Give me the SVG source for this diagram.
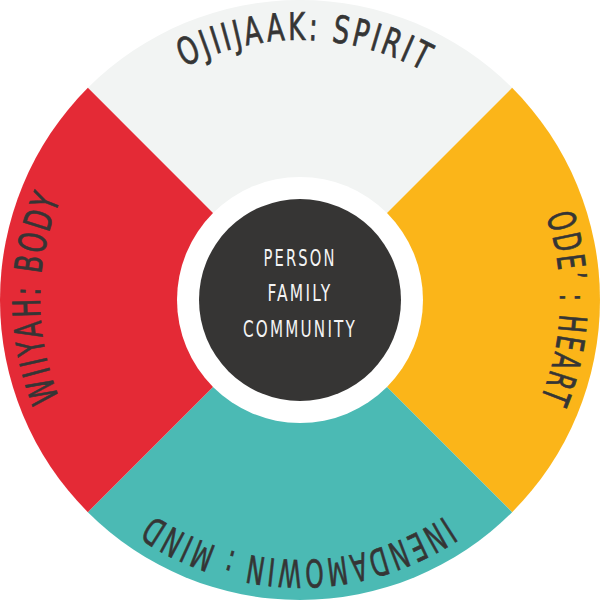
<svg xmlns="http://www.w3.org/2000/svg" width="600" height="600" viewBox="0 0 600 600">
  <style>
    .ring { font-family: "Liberation Sans Narrow", "DejaVu Sans Condensed", "Roboto", sans-serif; font-stretch: condensed; font-size: 38px; letter-spacing: 4px; fill: #353535; stroke: #353535; stroke-width: 0.7px; }
    .core { font-family: "Liberation Sans Narrow", "DejaVu Sans Condensed", "Roboto", sans-serif; font-stretch: condensed; font-size: 23px; letter-spacing: 3px; fill: #f4f4f4; text-anchor: middle; }
  </style>
  <defs>
    <path id="arcTop" d="M44.95,249.50 A260,260 0 0 1 556.94,260.22"/>
    <path id="arcRight" d="M354.06,45.68 A260,260 0 0 1 336.18,557.47"/>
    <path id="arcBottom" d="M555.56,347.83 A260,260 0 0 1 43.49,342.47"/>
    <path id="arcLeft" d="M252.17,555.56 A260,260 0 0 1 257.53,43.49"/>
  </defs>

  <g id="spirit">
    <path d="M300,300 L87.87,87.87 A300,300 0 0 1 512.13,87.87 Z" fill="#f2f4f3"/>
    <text class="ring"><textPath href="#arcTop" startOffset="50%" text-anchor="middle" textLength="251" lengthAdjust="spacingAndGlyphs">OJIIJAAK: SPIRIT</textPath></text>
  </g>
  <g id="heart">
    <path d="M300,300 L512.13,87.87 A300,300 0 0 1 512.13,512.13 Z" fill="#fbb519"/>
    <text class="ring"><textPath href="#arcRight" startOffset="50%" text-anchor="middle" textLength="189" lengthAdjust="spacingAndGlyphs">ODE’ : HEART</textPath></text>
  </g>
  <g id="mind">
    <path d="M300,300 L512.13,512.13 A300,300 0 0 1 87.87,512.13 Z" fill="#4bbab4"/>
    <text class="ring"><textPath href="#arcBottom" startOffset="50%" text-anchor="middle" textLength="311" lengthAdjust="spacingAndGlyphs">INENDAMOWIN : MIND</textPath></text>
  </g>
  <g id="body">
    <path d="M300,300 L87.87,512.13 A300,300 0 0 1 87.87,87.87 Z" fill="#e42a36"/>
    <text class="ring"><textPath href="#arcLeft" startOffset="50%" text-anchor="middle" textLength="207" lengthAdjust="spacingAndGlyphs">WIIYAH: BODY</textPath></text>
  </g>

  <g id="center">
    <circle cx="300" cy="300" r="123" fill="#ffffff"/>
    <circle cx="300" cy="300" r="101" fill="#363534"/>
    <text class="core" x="300" y="266" textLength="73" lengthAdjust="spacingAndGlyphs">PERSON</text>
    <text class="core" x="300" y="301" textLength="65" lengthAdjust="spacingAndGlyphs">FAMILY</text>
    <text class="core" x="300" y="337" textLength="114" lengthAdjust="spacingAndGlyphs">COMMUNITY</text>
  </g>
</svg>
